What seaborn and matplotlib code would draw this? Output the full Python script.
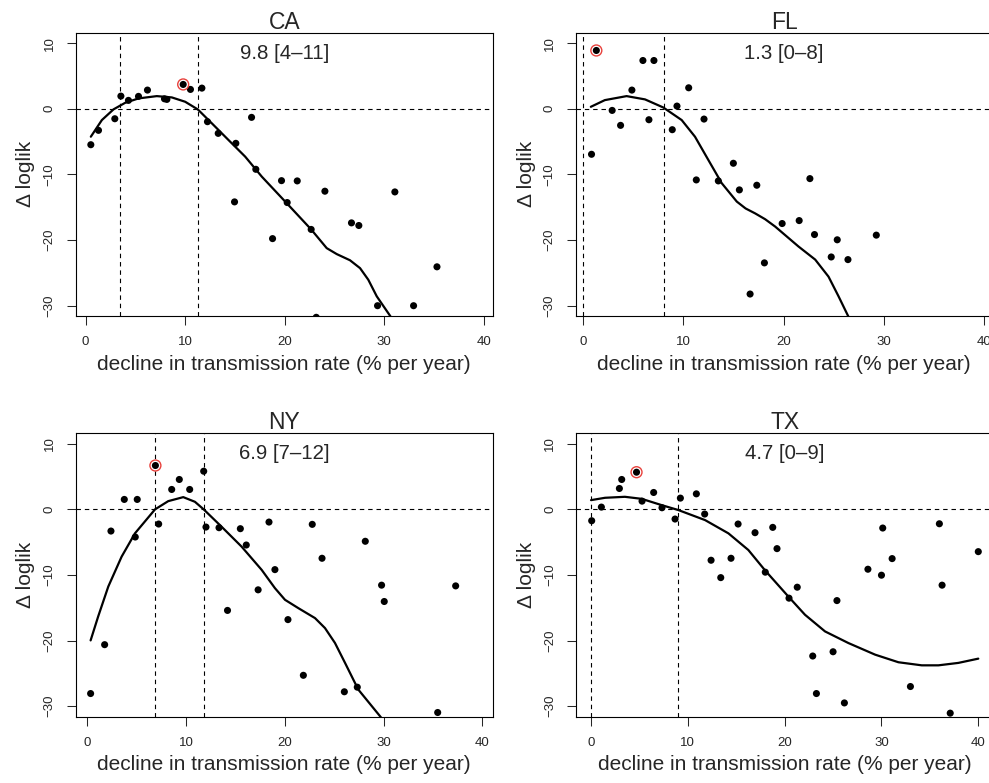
import numpy as np
import pandas as pd
import matplotlib
matplotlib.use("Agg")
import matplotlib.pyplot as plt
import seaborn as sns

sns.set_style("white")
plt.rcParams["font.family"] = ["Liberation Sans", "DejaVu Sans"]
plt.rcParams["axes.unicode_minus"] = True

# ---- CA ----
ca_x = [0.52, 1.29, 2.93, 3.54, 4.30, 5.31, 6.21, 7.92, 8.16, 9.80, 10.53, 11.68, 12.24,
        13.32, 14.96, 15.09, 16.67, 17.10, 18.78, 19.68, 20.25, 21.26, 22.66, 23.17, 24.04,
        26.71, 27.45, 29.33, 31.07, 32.95, 35.30]
ca_y = [-5.48, -3.29, -1.52, 1.93, 1.28, 1.89, 2.85, 1.52, 1.43, 3.71, 2.95, 3.15, -1.97,
        -3.75, -14.2, -5.27, -1.31, -9.23, -19.8, -10.96, -14.3, -11.0, -18.4, -31.8, -12.57,
        -17.4, -17.8, -30.03, -12.68, -30.03, -24.1]
ca_fit_x = [0.52, 1.63, 2.80, 3.97, 5.31, 7.15, 8.66, 10.00, 11.27, 12.68, 14.35, 16.03,
            17.70, 20.05, 22.66, 24.22, 25.23, 26.56, 27.57, 28.40, 29.25, 30.58, 31.20]
ca_fit_y = [-4.26, -1.72, -0.09, 0.91, 1.58, 1.93, 1.73, 1.07, -0.10, -2.22, -4.76, -7.30,
            -10.35, -14.15, -18.40, -21.25, -22.16, -23.10, -24.30, -26.07, -28.60, -31.55, -33.0]
ca_ci = [3.5, 11.27]

# ---- FL ----
fl_x = [0.82, 1.30, 2.88, 3.72, 4.85, 5.95, 6.55, 7.05, 8.88, 9.35, 10.52, 11.28, 12.05,
        13.48, 14.98, 15.58, 16.65, 17.32, 18.08, 19.85, 21.55, 22.62, 23.08, 24.75, 25.35,
        26.42, 29.25]
fl_y = [-6.94, 8.89, -0.25, -2.53, 2.85, 7.36, -1.67, 7.36, -3.19, 0.41, 3.20, -10.85, -1.57,
        -11.0, -8.31, -12.37, -28.25, -11.66, -23.5, -17.5, -17.05, -10.65, -19.18, -22.6,
        -19.98, -23.0, -19.27]
fl_fit_x = [0.75, 2.15, 4.32, 6.16, 7.98, 9.82, 11.15, 12.48, 13.82, 15.32, 16.20, 17.15,
            18.15, 19.15, 21.48, 23.15, 24.48, 25.48, 26.42, 26.90]
fl_fit_y = [0.30, 1.32, 1.93, 1.43, 0.20, -1.72, -4.26, -7.80, -11.35, -14.15, -15.20, -15.95,
            -16.84, -17.96, -21.00, -23.00, -25.60, -28.60, -31.55, -33.0]
fl_ci = [0.0, 8.02]

# ---- NY ----
ny_x = [0.34, 1.76, 2.40, 3.75, 4.86, 5.06, 6.90, 7.23, 8.55, 9.32, 10.37, 11.79, 12.02,
        13.34, 14.20, 15.50, 16.10, 17.30, 18.40, 19.00, 20.32, 21.88, 22.78, 23.77, 26.03,
        27.34, 28.15, 29.80, 30.07, 35.48, 37.30]
ny_y = [-28.07, -20.62, -3.30, 1.52, -4.21, 1.52, 6.69, -2.23, 3.04, 4.56, 3.04, 5.82, -2.69,
        -2.79, -15.4, -2.94, -5.43, -12.26, -1.93, -9.18, -16.8, -25.29, -2.28, -7.45, -27.8,
        -27.1, -4.86, -11.55, -14.04, -30.96, -11.66]
ny_fit_x = [0.34, 1.11, 2.13, 3.48, 4.83, 6.86, 8.20, 9.72, 10.90, 11.79, 13.60, 15.63,
            17.66, 19.00, 20.02, 21.37, 23.06, 24.07, 25.08, 26.10, 27.44, 29.64, 30.20]
ny_fit_y = [-19.97, -16.30, -11.76, -7.20, -3.65, 0.00, 1.26, 1.87, 1.16, 0.00, -2.64, -5.68,
            -9.22, -12.00, -13.78, -15.05, -16.57, -18.09, -20.36, -23.40, -27.46, -31.52, -32.6]
ny_ci = [6.89, 11.79]

# ---- TX ----
tx_x = [0.07, 1.07, 2.93, 3.17, 4.70, 5.27, 6.47, 7.33, 8.68, 9.23, 10.88, 11.74, 12.40,
        13.40, 14.46, 15.19, 16.94, 18.00, 18.77, 19.21, 20.45, 21.30, 22.90, 23.28, 25.00,
        25.40, 26.17, 28.60, 30.00, 30.13, 31.10, 32.99, 35.98, 36.26, 37.10, 40.00]
tx_y = [-1.73, 0.35, 3.19, 4.56, 5.67, 1.26, 2.58, 0.25, -1.47, 1.72, 2.37, -0.71, -7.75,
        -10.4, -7.45, -2.23, -3.55, -9.57, -2.74, -5.98, -13.53, -11.86, -22.35, -28.07, -21.7,
        -13.9, -29.5, -9.12, -10.03, -2.84, -7.5, -27.0, -2.19, -11.55, -31.06, -6.44]
tx_fit_x = [0.0, 1.45, 3.50, 5.23, 7.30, 9.02, 11.78, 14.19, 16.25, 17.98, 20.38, 22.10,
            24.17, 26.58, 29.34, 31.75, 34.16, 35.88, 37.94, 40.00]
tx_fit_y = [1.41, 1.77, 1.92, 1.61, 0.65, -0.10, -1.63, -3.65, -6.19, -9.30, -13.28, -16.06,
            -18.60, -20.37, -22.14, -23.30, -23.77, -23.77, -23.40, -22.75]
tx_ci = [0.0, 9.02]

states = ["CA", "FL", "NY", "TX"]
xlims = {"CA": (-1.0, 40.9), "FL": (-0.76, 40.87), "NY": (-1.17, 41.05), "TX": (-1.52, 41.55)}
x_ticks = [0, 10, 20, 30, 40]
y_ticks = [-30, -20, -10, 0, 10]
y_lim = (-31.6, 11.6)

panels = {
    "CA": (ca_x, ca_y, ca_fit_x, ca_fit_y, ca_ci),
    "FL": (fl_x, fl_y, fl_fit_x, fl_fit_y, fl_ci),
    "NY": (ny_x, ny_y, ny_fit_x, ny_fit_y, ny_ci),
    "TX": (tx_x, tx_y, tx_fit_x, tx_fit_y, tx_ci),
}

W, H = 989, 783
fig = plt.figure(figsize=(W / 100, H / 100), dpi=100)

# axes boxes in pixels: left, top, right, bottom
boxes = {
    "CA": (75.7, 32.7, 492.7, 316.0),
    "FL": (575.7, 32.7, 992.7, 316.0),
    "NY": (75.7, 433.3, 492.7, 716.7),
    "TX": (576.3, 433.3, 993.3, 716.7),
}

for st in states:
    xs, ys, fx, fy, ci = panels[st]
    l, t, r, b = boxes[st]
    ax = fig.add_axes([l / W, 1 - b / H, (r - l) / W, (b - t) / H])
    df = pd.DataFrame({"x": xs, "y": ys})
    fit = pd.DataFrame({"x": fx, "y": fy})

    ax.axhline(0, color="black", lw=0.8, ls=(0, (4, 3.5)), zorder=1)
    for v in ci:
        ax.axvline(v, color="black", lw=0.8, ls=(0, (4, 3.5)), zorder=1)

    sns.lineplot(data=fit, x="x", y="y", ax=ax, color="black", lw=1.6,
                 sort=False, estimator=None, zorder=2)
    sns.scatterplot(data=df, x="x", y="y", ax=ax, color="black", s=26,
                    edgecolor="none", legend=False, zorder=3)
    best = df.loc[df["y"].idxmax()]
    ax.scatter([best["x"]], [best["y"]], s=62, facecolors="none",
               edgecolors="#e8413c", linewidths=1.0, zorder=4)

    label = f"{best['x']:.1f} [{round(ci[0])}\u2013{round(ci[1])}]"
    ax.text(20, 8.5, label, ha="center", va="center", fontsize=14.7)

    ax.set_xlim(*xlims[st])
    ax.set_ylim(*y_lim)
    ax.set_xticks(x_ticks)
    ax.set_yticks(y_ticks)
    ax.tick_params(direction="out", length=6.5, width=0.75, labelsize=9.5,
                   bottom=True, left=True, pad=8)
    for lab in ax.get_yticklabels():
        lab.set_rotation(90)
        lab.set_va("center")
    for sp in ax.spines.values():
        sp.set_visible(True)
        sp.set_color("black")
        sp.set_linewidth(0.8)

    h = b - t
    w = r - l
    ax.set_title(st, fontsize=16.5, pad=3)
    ax.set_xlabel("decline in transmission rate (% per year)", fontsize=15)
    ax.xaxis.set_label_coords(0.5, -48 / h)
    ax.xaxis.label.set_va("center")
    ax.set_ylabel("\u0394 loglik", fontsize=15)
    ax.yaxis.set_label_coords(-(l - 26) / w if l < 500 else -(l - 526) / w, 0.5)
    ax.yaxis.label.set_va("center")

fig.savefig("out.png", dpi=100)
